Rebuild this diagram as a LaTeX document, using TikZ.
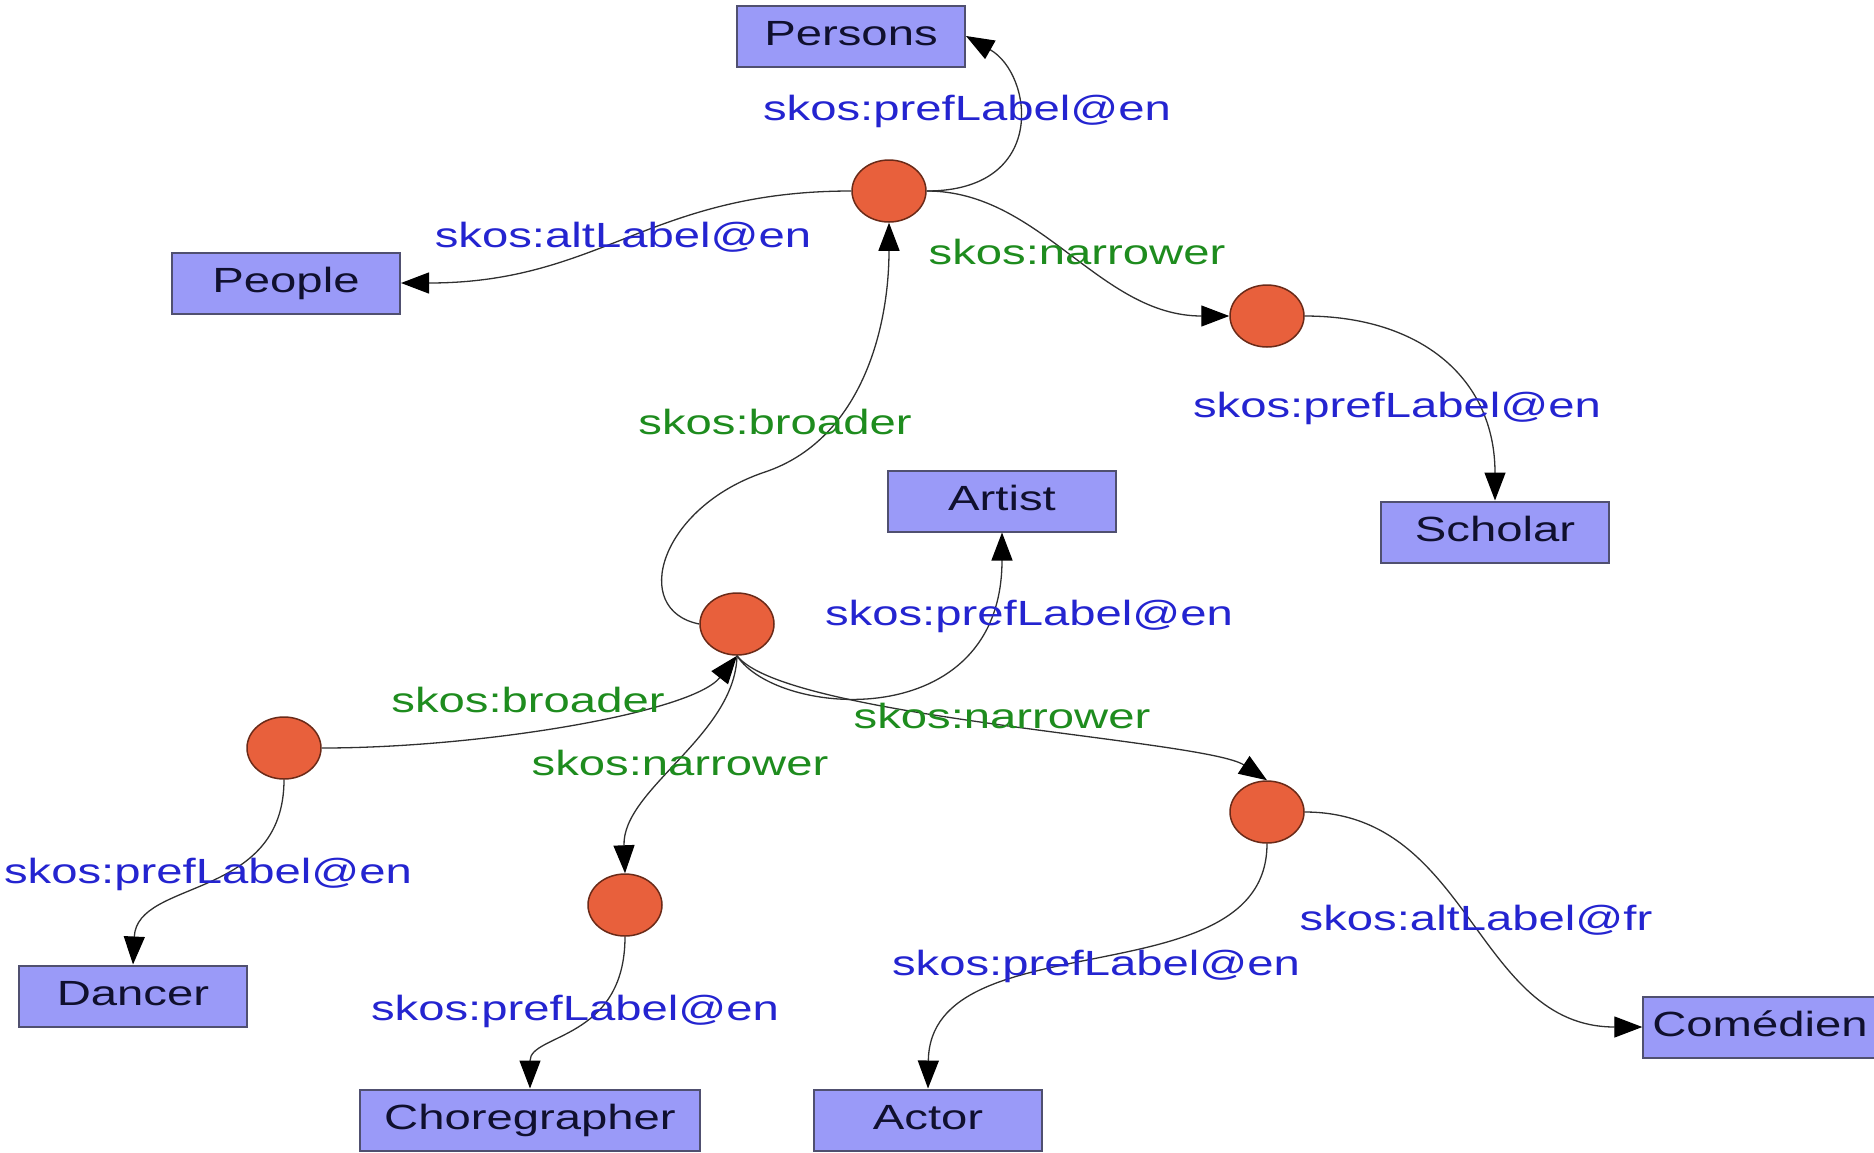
\documentclass[tikz,border=0pt]{standalone}
\usepackage{fontspec}
\setmainfont{Liberation Sans}[FakeStretch=1.35]
\usepackage{tikz}
\usetikzlibrary{arrows.meta,shapes.geometric}

\definecolor{termfill}{HTML}{9A9AF8}
\definecolor{termline}{HTML}{505070}
\definecolor{termtext}{HTML}{10102E}
\definecolor{conceptfill}{HTML}{E8603C}
\definecolor{conceptline}{HTML}{6A2A18}
\definecolor{labelblue}{HTML}{2424D0}
\definecolor{relgreen}{HTML}{1E8C1E}
\definecolor{linkgray}{HTML}{303030}

\begin{document}
\begin{tikzpicture}[x=1pt,y=1pt]

  \tikzset{
    term/.style = {draw=termline, fill=termfill, line width=2pt,
      minimum width=228pt, minimum height=61pt, inner xsep=9pt,
      text height=25pt, text depth=7pt,
      font=\fontsize{35}{40}\selectfont, text=termtext},
    concept/.style = {ellipse, draw=conceptline, fill=conceptfill,
      line width=1.5pt, minimum width=74pt, minimum height=62pt, inner sep=0pt},
    lbl/.style = {font=\fontsize{35}{40}\selectfont, inner sep=0pt},
    pref/.style = {lbl, text=labelblue},
    rel/.style = {lbl, text=relgreen},
    link/.style = {draw=linkgray, line width=1.3pt,
      -{Triangle[length=28pt,width=21pt,color=black]}}}

  \useasboundingbox (0,0) rectangle (1874,-1152);

  % labels (terms)
  \node[term] (persons)  at (851,-36)   {Persons};
  \node[term] (people)   at (286,-283)  {People};
  \node[term] (artist)   at (1002,-501) {Artist};
  \node[term] (scholar)  at (1495,-532) {Scholar};
  \node[term] (dancer)   at (133,-996)  {Dancer};
  \node[term, minimum width=340pt] (choreo) at (530,-1120) {Choregrapher};
  \node[term] (actor)    at (928,-1120) {Actor};
  \node[term] (comedien) at (1760,-1027) {Comédien};

  % concepts
  \node[concept] (cPers) at (889,-191) {};
  \node[concept] (cSch)  at (1267,-316) {};
  \node[concept] (cArt)  at (737,-624) {};
  \node[concept] (cDan)  at (284,-748) {};
  \node[concept] (cCho)  at (625,-905) {};
  \node[concept] (cAct)  at (1267,-812) {};

  % relations
  \draw[link] (cPers.east) .. controls +(122,0) and +(67,-38) .. (persons.east);
  \draw[link] (cPers.west) .. controls +(-202,0) and +(200,0) .. (people.east);
  \draw[link] (cPers.east) .. controls +(114,0) and +(-130,0) .. (cSch.west);
  \draw[link] (cSch.east) .. controls +(116,0) and +(0,122) .. (scholar.north);
  \draw[link] (cArt.west) .. controls +(-70,14) and +(-105,-35) .. (765,-472)
    .. controls +(95,32) and +(0,-108) .. (cPers.south);
  \draw[link] (cArt.south) .. controls +(40,-62) and +(0,-203) .. (artist.south);
  \draw[link] (cArt.south) .. controls +(48,-62) and +(-62,41) .. (cAct.north);
  \draw[link] (cDan.east) .. controls +(159,0) and +(-45,-57) .. (cArt.south);
  \draw[link] (cArt.south) .. controls +(-2,-80) and +(-3,84) .. (cCho.north);
  \draw[link] (cDan.south) .. controls +(0,-121) and +(4,86) .. (dancer.north);
  \draw[link] (cCho.south) .. controls +(0,-104) and +(0,55) .. (choreo.north);
  \draw[link] (cAct.south) .. controls +(0,-157) and +(2,170) .. (actor.north);
  \draw[link] (cAct.east) .. controls +(166,0) and +(-167,0) .. (comedien.west);

  % property names
  \node[pref] (lbPersons)  at (967,-111)  {skos:prefLabel@en};
  \node[pref] (lbPeople)   at (623,-237)  {skos:altLabel@en};
  \node[rel]  (lbNarSch)   at (1077,-252) {skos:narrower};
  \node[pref] (lbScholar)  at (1397,-408) {skos:prefLabel@en};
  \node[rel]  (lbBroPers)  at (775,-422)  {skos:broader};
  \node[pref] (lbArtist)   at (1029,-616) {skos:prefLabel@en};
  \node[rel]  (lbBroArt)   at (528,-700)  {skos:broader};
  \node[rel]  (lbNarAct)   at (1002,-716) {skos:narrower};
  \node[rel]  (lbNarCho)   at (680,-763)  {skos:narrower};
  \node[pref] (lbDancer)   at (208,-874)  {skos:prefLabel@en};
  \node[pref] (lbComedien) at (1476,-920) {skos:altLabel@fr};
  \node[pref] (lbActor)    at (1096,-966) {skos:prefLabel@en};
  \node[pref] (lbChoreo)   at (575,-1011) {skos:prefLabel@en};

\end{tikzpicture}
\end{document}
